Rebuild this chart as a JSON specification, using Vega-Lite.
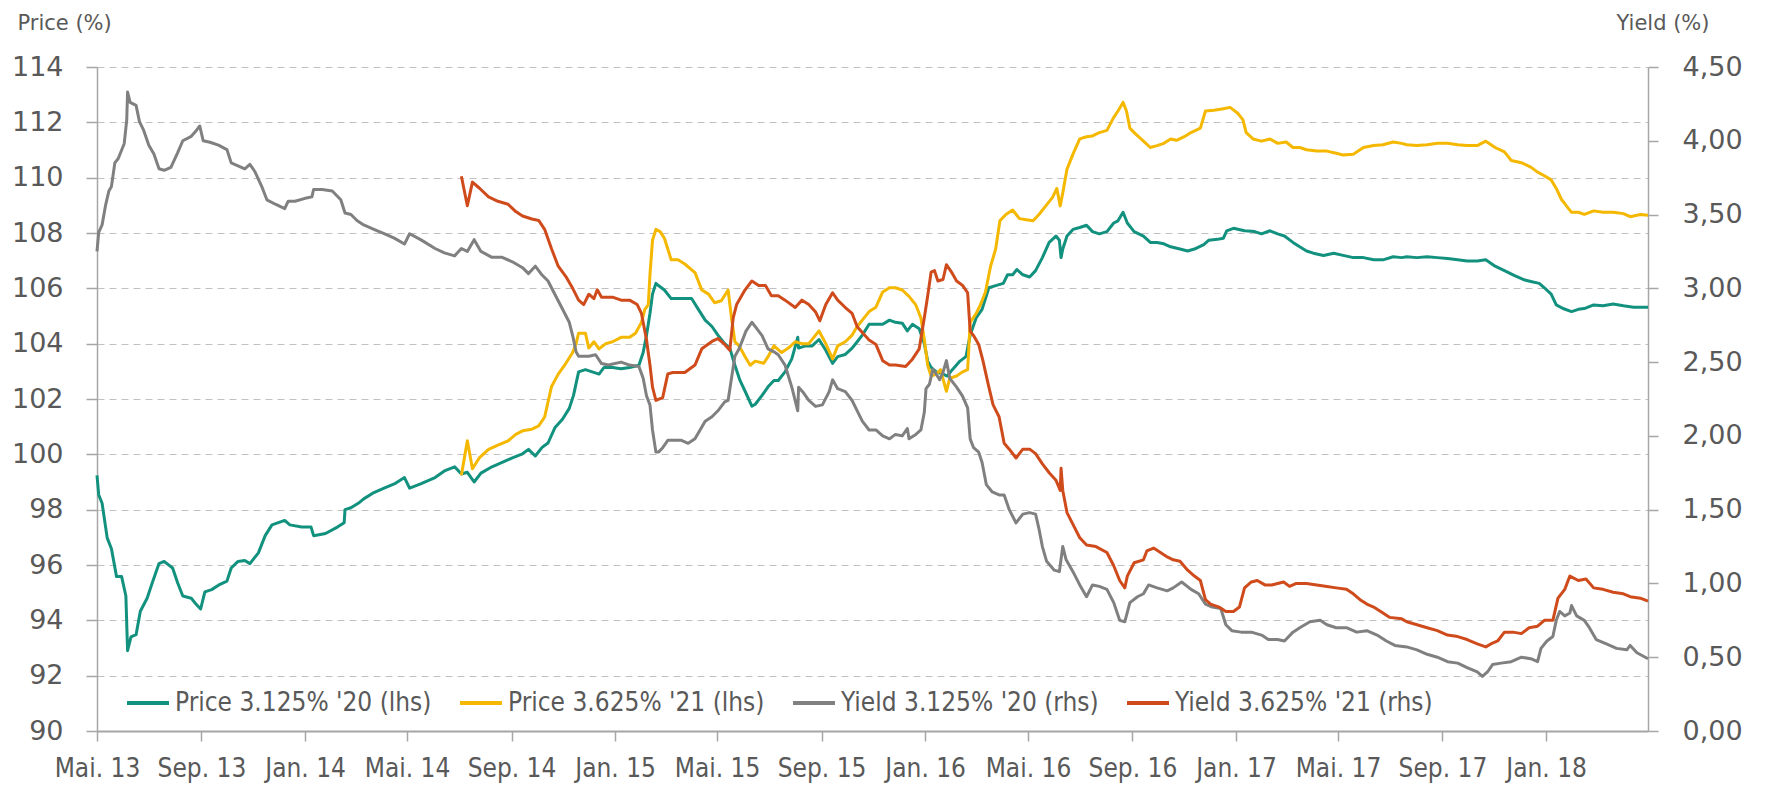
{
"$schema":"https://vega.github.io/schema/vega-lite/v6.json",
"width":1551,"height":664,
"autosize":{"type":"none"},
"padding":{"left":97,"top":67,"right":117,"bottom":54},
"config":{"view":{"stroke":null},"font":"DejaVu Sans"},
"datasets":{
"p20":[{"d":"2013-05-01","v":99.24},{"d":"2013-05-03","v":98.54},{"d":"2013-05-07","v":98.23},{"d":"2013-05-13","v":96.98},{"d":"2013-05-18","v":96.59},{"d":"2013-05-24","v":95.58},{"d":"2013-05-30","v":95.58},{"d":"2013-06-04","v":94.88},{"d":"2013-06-06","v":92.9},{"d":"2013-06-10","v":93.4},{"d":"2013-06-16","v":93.48},{"d":"2013-06-21","v":94.33},{"d":"2013-06-29","v":94.8},{"d":"2013-07-05","v":95.35},{"d":"2013-07-13","v":96.05},{"d":"2013-07-19","v":96.13},{"d":"2013-07-29","v":95.89},{"d":"2013-08-04","v":95.35},{"d":"2013-08-10","v":94.88},{"d":"2013-08-20","v":94.8},{"d":"2013-08-26","v":94.57},{"d":"2013-08-31","v":94.41},{"d":"2013-09-05","v":95.03},{"d":"2013-09-13","v":95.11},{"d":"2013-09-21","v":95.27},{"d":"2013-10-01","v":95.42},{"d":"2013-10-06","v":95.89},{"d":"2013-10-14","v":96.13},{"d":"2013-10-22","v":96.16},{"d":"2013-10-28","v":96.05},{"d":"2013-11-07","v":96.44},{"d":"2013-11-15","v":97.06},{"d":"2013-11-23","v":97.45},{"d":"2013-12-08","v":97.61},{"d":"2013-12-14","v":97.45},{"d":"2013-12-28","v":97.37},{"d":"2014-01-08","v":97.37},{"d":"2014-01-11","v":97.06},{"d":"2014-01-25","v":97.14},{"d":"2014-02-08","v":97.37},{"d":"2014-02-16","v":97.53},{"d":"2014-02-17","v":98.0},{"d":"2014-02-24","v":98.07},{"d":"2014-03-06","v":98.26},{"d":"2014-03-11","v":98.39},{"d":"2014-03-23","v":98.62},{"d":"2014-04-04","v":98.78},{"d":"2014-04-16","v":98.93},{"d":"2014-04-28","v":99.16},{"d":"2014-05-04","v":98.78},{"d":"2014-05-17","v":98.93},{"d":"2014-06-03","v":99.16},{"d":"2014-06-14","v":99.4},{"d":"2014-06-26","v":99.55},{"d":"2014-07-04","v":99.29},{"d":"2014-07-11","v":99.35},{"d":"2014-07-19","v":99.0},{"d":"2014-07-27","v":99.32},{"d":"2014-08-09","v":99.55},{"d":"2014-08-21","v":99.71},{"d":"2014-09-02","v":99.87},{"d":"2014-09-14","v":100.02},{"d":"2014-09-21","v":100.18},{"d":"2014-09-29","v":99.94},{"d":"2014-10-07","v":100.25},{"d":"2014-10-14","v":100.41},{"d":"2014-10-22","v":100.96},{"d":"2014-10-31","v":101.27},{"d":"2014-11-08","v":101.66},{"d":"2014-11-13","v":102.13},{"d":"2014-11-19","v":102.98},{"d":"2014-11-27","v":103.06},{"d":"2014-12-05","v":102.98},{"d":"2014-12-13","v":102.9},{"d":"2014-12-19","v":103.14},{"d":"2014-12-29","v":103.14},{"d":"2015-01-08","v":103.09},{"d":"2015-01-18","v":103.14},{"d":"2015-01-29","v":103.22},{"d":"2015-02-03","v":103.68},{"d":"2015-02-07","v":104.31},{"d":"2015-02-11","v":105.09},{"d":"2015-02-14","v":105.79},{"d":"2015-02-18","v":106.18},{"d":"2015-02-21","v":106.1},{"d":"2015-02-28","v":105.94},{"d":"2015-03-08","v":105.63},{"d":"2015-03-20","v":105.63},{"d":"2015-04-01","v":105.63},{"d":"2015-04-09","v":105.24},{"d":"2015-04-17","v":104.85},{"d":"2015-04-25","v":104.62},{"d":"2015-05-02","v":104.31},{"d":"2015-05-10","v":104.0},{"d":"2015-05-16","v":103.84},{"d":"2015-05-22","v":103.22},{"d":"2015-05-28","v":102.67},{"d":"2015-06-03","v":102.28},{"d":"2015-06-11","v":101.74},{"d":"2015-06-15","v":101.81},{"d":"2015-06-23","v":102.13},{"d":"2015-06-30","v":102.44},{"d":"2015-07-07","v":102.67},{"d":"2015-07-12","v":102.67},{"d":"2015-07-20","v":102.98},{"d":"2015-07-28","v":103.45},{"d":"2015-08-04","v":104.23},{"d":"2015-08-05","v":103.84},{"d":"2015-08-13","v":103.92},{"d":"2015-08-21","v":103.92},{"d":"2015-08-29","v":104.15},{"d":"2015-09-06","v":103.76},{"d":"2015-09-14","v":103.29},{"d":"2015-09-20","v":103.53},{"d":"2015-09-29","v":103.61},{"d":"2015-10-07","v":103.84},{"d":"2015-10-13","v":104.07},{"d":"2015-10-19","v":104.31},{"d":"2015-10-27","v":104.7},{"d":"2015-11-04","v":104.7},{"d":"2015-11-12","v":104.7},{"d":"2015-11-20","v":104.85},{"d":"2015-11-27","v":104.77},{"d":"2015-12-05","v":104.74},{"d":"2015-12-11","v":104.46},{"d":"2015-12-17","v":104.7},{"d":"2015-12-25","v":104.54},{"d":"2015-12-31","v":104.0},{"d":"2016-01-04","v":103.37},{"d":"2016-01-08","v":103.14},{"d":"2016-01-14","v":102.98},{"d":"2016-01-22","v":102.9},{"d":"2016-01-27","v":102.83},{"d":"2016-02-02","v":103.06},{"d":"2016-02-11","v":103.37},{"d":"2016-02-18","v":103.53},{"d":"2016-02-23","v":104.31},{"d":"2016-03-01","v":104.93},{"d":"2016-03-08","v":105.24},{"d":"2016-03-16","v":106.02},{"d":"2016-03-24","v":106.1},{"d":"2016-04-02","v":106.18},{"d":"2016-04-07","v":106.49},{"d":"2016-04-13","v":106.49},{"d":"2016-04-18","v":106.68},{"d":"2016-04-25","v":106.49},{"d":"2016-05-03","v":106.41},{"d":"2016-05-10","v":106.64},{"d":"2016-05-18","v":107.11},{"d":"2016-05-26","v":107.66},{"d":"2016-06-03","v":107.89},{"d":"2016-06-07","v":107.74},{"d":"2016-06-09","v":107.11},{"d":"2016-06-11","v":107.42},{"d":"2016-06-16","v":107.89},{"d":"2016-06-23","v":108.13},{"d":"2016-07-01","v":108.2},{"d":"2016-07-09","v":108.28},{"d":"2016-07-16","v":108.05},{"d":"2016-07-24","v":107.97},{"d":"2016-08-02","v":108.05},{"d":"2016-08-10","v":108.36},{"d":"2016-08-15","v":108.44},{"d":"2016-08-21","v":108.75},{"d":"2016-08-26","v":108.36},{"d":"2016-09-03","v":108.05},{"d":"2016-09-14","v":107.89},{"d":"2016-09-22","v":107.66},{"d":"2016-09-30","v":107.66},{"d":"2016-10-08","v":107.61},{"d":"2016-10-16","v":107.5},{"d":"2016-10-27","v":107.42},{"d":"2016-11-05","v":107.35},{"d":"2016-11-13","v":107.42},{"d":"2016-11-24","v":107.58},{"d":"2016-11-30","v":107.74},{"d":"2016-12-10","v":107.77},{"d":"2016-12-17","v":107.81},{"d":"2016-12-21","v":108.08},{"d":"2016-12-29","v":108.17},{"d":"2017-01-11","v":108.08},{"d":"2017-01-23","v":108.05},{"d":"2017-01-31","v":107.97},{"d":"2017-02-10","v":108.08},{"d":"2017-02-19","v":107.97},{"d":"2017-02-27","v":107.89},{"d":"2017-03-09","v":107.66},{"d":"2017-03-17","v":107.5},{"d":"2017-03-25","v":107.35},{"d":"2017-04-02","v":107.27},{"d":"2017-04-14","v":107.19},{"d":"2017-04-26","v":107.27},{"d":"2017-05-07","v":107.19},{"d":"2017-05-19","v":107.11},{"d":"2017-05-31","v":107.11},{"d":"2017-06-12","v":107.03},{"d":"2017-06-23","v":107.03},{"d":"2017-07-05","v":107.14},{"d":"2017-07-15","v":107.11},{"d":"2017-07-21","v":107.14},{"d":"2017-08-02","v":107.11},{"d":"2017-08-14","v":107.14},{"d":"2017-08-26","v":107.11},{"d":"2017-09-07","v":107.08},{"d":"2017-09-19","v":107.03},{"d":"2017-09-30","v":106.99},{"d":"2017-10-12","v":106.99},{"d":"2017-10-22","v":107.03},{"d":"2017-11-02","v":106.8},{"d":"2017-11-13","v":106.64},{"d":"2017-11-25","v":106.46},{"d":"2017-12-07","v":106.3},{"d":"2017-12-14","v":106.25},{"d":"2017-12-24","v":106.18},{"d":"2017-12-30","v":106.02},{"d":"2018-01-07","v":105.79},{"d":"2018-01-13","v":105.4},{"d":"2018-01-21","v":105.27},{"d":"2018-01-31","v":105.16},{"d":"2018-02-08","v":105.24},{"d":"2018-02-15","v":105.27},{"d":"2018-02-26","v":105.4},{"d":"2018-03-09","v":105.37},{"d":"2018-03-21","v":105.43},{"d":"2018-04-02","v":105.37},{"d":"2018-04-14","v":105.32},{"d":"2018-04-26","v":105.32},{"d":"2018-05-01","v":105.32}],
"p21":[{"d":"2014-07-04","v":99.24},{"d":"2014-07-11","v":100.49},{"d":"2014-07-17","v":99.48},{"d":"2014-07-25","v":99.87},{"d":"2014-08-05","v":100.18},{"d":"2014-08-16","v":100.33},{"d":"2014-08-28","v":100.49},{"d":"2014-09-06","v":100.72},{"d":"2014-09-14","v":100.85},{"d":"2014-09-25","v":100.91},{"d":"2014-10-03","v":101.03},{"d":"2014-10-10","v":101.35},{"d":"2014-10-18","v":102.44},{"d":"2014-10-26","v":102.9},{"d":"2014-11-04","v":103.29},{"d":"2014-11-12","v":103.68},{"d":"2014-11-16","v":104.0},{"d":"2014-11-19","v":104.38},{"d":"2014-11-27","v":104.38},{"d":"2014-12-01","v":103.84},{"d":"2014-12-07","v":104.07},{"d":"2014-12-13","v":103.81},{"d":"2014-12-21","v":104.0},{"d":"2014-12-29","v":104.07},{"d":"2015-01-08","v":104.23},{"d":"2015-01-18","v":104.23},{"d":"2015-01-25","v":104.38},{"d":"2015-02-01","v":104.77},{"d":"2015-02-05","v":105.24},{"d":"2015-02-09","v":105.4},{"d":"2015-02-11","v":106.49},{"d":"2015-02-14","v":107.74},{"d":"2015-02-18","v":108.13},{"d":"2015-02-23","v":108.05},{"d":"2015-02-28","v":107.81},{"d":"2015-03-04","v":107.42},{"d":"2015-03-08","v":107.03},{"d":"2015-03-16","v":107.03},{"d":"2015-03-24","v":106.88},{"d":"2015-04-05","v":106.57},{"d":"2015-04-13","v":105.94},{"d":"2015-04-21","v":105.79},{"d":"2015-04-28","v":105.48},{"d":"2015-05-06","v":105.55},{"d":"2015-05-14","v":105.94},{"d":"2015-05-18","v":104.93},{"d":"2015-05-22","v":104.07},{"d":"2015-05-27","v":103.92},{"d":"2015-06-03","v":103.53},{"d":"2015-06-09","v":103.22},{"d":"2015-06-15","v":103.37},{"d":"2015-06-25","v":103.29},{"d":"2015-06-30","v":103.53},{"d":"2015-07-07","v":103.92},{"d":"2015-07-16","v":103.68},{"d":"2015-07-24","v":103.84},{"d":"2015-08-01","v":104.07},{"d":"2015-08-09","v":104.0},{"d":"2015-08-17","v":104.0},{"d":"2015-08-25","v":104.31},{"d":"2015-08-29","v":104.46},{"d":"2015-09-06","v":104.0},{"d":"2015-09-14","v":103.45},{"d":"2015-09-20","v":103.92},{"d":"2015-09-29","v":104.07},{"d":"2015-10-07","v":104.31},{"d":"2015-10-13","v":104.62},{"d":"2015-10-19","v":104.85},{"d":"2015-10-27","v":105.16},{"d":"2015-11-04","v":105.32},{"d":"2015-11-12","v":105.87},{"d":"2015-11-20","v":106.02},{"d":"2015-11-27","v":106.02},{"d":"2015-12-05","v":105.94},{"d":"2015-12-13","v":105.71},{"d":"2015-12-21","v":105.4},{"d":"2015-12-27","v":104.93},{"d":"2015-12-31","v":104.15},{"d":"2016-01-04","v":103.22},{"d":"2016-01-08","v":102.83},{"d":"2016-01-14","v":102.9},{"d":"2016-01-19","v":103.06},{"d":"2016-01-26","v":102.28},{"d":"2016-01-30","v":102.75},{"d":"2016-02-07","v":102.83},{"d":"2016-02-14","v":102.98},{"d":"2016-02-20","v":103.06},{"d":"2016-02-23","v":104.77},{"d":"2016-03-01","v":105.09},{"d":"2016-03-06","v":105.4},{"d":"2016-03-12","v":105.87},{"d":"2016-03-18","v":106.8},{"d":"2016-03-24","v":107.42},{"d":"2016-03-29","v":108.44},{"d":"2016-04-05","v":108.67},{"d":"2016-04-13","v":108.83},{"d":"2016-04-21","v":108.52},{"d":"2016-04-29","v":108.48},{"d":"2016-05-07","v":108.44},{"d":"2016-05-14","v":108.67},{"d":"2016-05-22","v":108.98},{"d":"2016-05-30","v":109.29},{"d":"2016-06-04","v":109.61},{"d":"2016-06-08","v":108.98},{"d":"2016-06-11","v":109.45},{"d":"2016-06-16","v":110.31},{"d":"2016-06-23","v":110.85},{"d":"2016-07-01","v":111.4},{"d":"2016-07-09","v":111.48},{"d":"2016-07-16","v":111.51},{"d":"2016-07-24","v":111.63},{"d":"2016-08-02","v":111.71},{"d":"2016-08-10","v":112.18},{"d":"2016-08-15","v":112.41},{"d":"2016-08-21","v":112.72},{"d":"2016-08-25","v":112.41},{"d":"2016-08-29","v":111.79},{"d":"2016-09-04","v":111.6},{"d":"2016-09-14","v":111.32},{"d":"2016-09-22","v":111.09},{"d":"2016-09-30","v":111.16},{"d":"2016-10-08","v":111.24},{"d":"2016-10-16","v":111.4},{"d":"2016-10-23","v":111.35},{"d":"2016-11-01","v":111.48},{"d":"2016-11-09","v":111.63},{"d":"2016-11-20","v":111.79},{"d":"2016-11-26","v":112.41},{"d":"2016-12-06","v":112.44},{"d":"2016-12-17","v":112.49},{"d":"2016-12-25","v":112.54},{"d":"2017-01-03","v":112.33},{"d":"2017-01-09","v":112.1},{"d":"2017-01-13","v":111.63},{"d":"2017-01-21","v":111.4},{"d":"2017-01-31","v":111.32},{"d":"2017-02-10","v":111.4},{"d":"2017-02-19","v":111.24},{"d":"2017-03-01","v":111.29},{"d":"2017-03-09","v":111.09},{"d":"2017-03-17","v":111.09},{"d":"2017-03-25","v":111.01},{"d":"2017-04-06","v":110.96},{"d":"2017-04-18","v":110.96},{"d":"2017-04-29","v":110.88},{"d":"2017-05-07","v":110.82},{"d":"2017-05-19","v":110.85},{"d":"2017-05-31","v":111.09},{"d":"2017-06-12","v":111.16},{"d":"2017-06-23","v":111.19},{"d":"2017-07-05","v":111.29},{"d":"2017-07-15","v":111.24},{"d":"2017-07-21","v":111.19},{"d":"2017-08-02","v":111.16},{"d":"2017-08-14","v":111.19},{"d":"2017-08-26","v":111.24},{"d":"2017-09-07","v":111.24},{"d":"2017-09-19","v":111.19},{"d":"2017-09-30","v":111.16},{"d":"2017-10-12","v":111.16},{"d":"2017-10-22","v":111.32},{"d":"2017-11-02","v":111.09},{"d":"2017-11-13","v":110.93},{"d":"2017-11-21","v":110.62},{"d":"2017-12-03","v":110.54},{"d":"2017-12-14","v":110.38},{"d":"2017-12-22","v":110.2},{"d":"2017-12-30","v":110.07},{"d":"2018-01-07","v":109.92},{"d":"2018-01-13","v":109.61},{"d":"2018-01-19","v":109.22},{"d":"2018-01-27","v":108.9},{"d":"2018-01-31","v":108.75},{"d":"2018-02-08","v":108.75},{"d":"2018-02-15","v":108.67},{"d":"2018-02-26","v":108.8},{"d":"2018-03-09","v":108.75},{"d":"2018-03-21","v":108.75},{"d":"2018-04-02","v":108.7},{"d":"2018-04-10","v":108.59},{"d":"2018-04-22","v":108.67},{"d":"2018-05-01","v":108.64}],
"y20":[{"d":"2013-05-01","v":3.25},{"d":"2013-05-03","v":3.38},{"d":"2013-05-07","v":3.43},{"d":"2013-05-11","v":3.56},{"d":"2013-05-15","v":3.66},{"d":"2013-05-18","v":3.69},{"d":"2013-05-22","v":3.85},{"d":"2013-05-26","v":3.88},{"d":"2013-06-02","v":3.98},{"d":"2013-06-05","v":4.14},{"d":"2013-06-06","v":4.33},{"d":"2013-06-09","v":4.26},{"d":"2013-06-16","v":4.24},{"d":"2013-06-20","v":4.13},{"d":"2013-06-25","v":4.07},{"d":"2013-07-01","v":3.97},{"d":"2013-07-07","v":3.91},{"d":"2013-07-13","v":3.81},{"d":"2013-07-19","v":3.8},{"d":"2013-07-27","v":3.82},{"d":"2013-08-04","v":3.92},{"d":"2013-08-10","v":4.0},{"d":"2013-08-20","v":4.03},{"d":"2013-08-26","v":4.07},{"d":"2013-08-30","v":4.1},{"d":"2013-09-03","v":4.0},{"d":"2013-09-11","v":3.99},{"d":"2013-09-21","v":3.97},{"d":"2013-10-01","v":3.94},{"d":"2013-10-06","v":3.85},{"d":"2013-10-14","v":3.83},{"d":"2013-10-22","v":3.81},{"d":"2013-10-28","v":3.84},{"d":"2013-11-03","v":3.79},{"d":"2013-11-11","v":3.69},{"d":"2013-11-17","v":3.6},{"d":"2013-11-27","v":3.57},{"d":"2013-12-08","v":3.54},{"d":"2013-12-12","v":3.59},{"d":"2013-12-20","v":3.59},{"d":"2014-01-01","v":3.61},{"d":"2014-01-09","v":3.62},{"d":"2014-01-11","v":3.67},{"d":"2014-01-21","v":3.67},{"d":"2014-02-02","v":3.66},{"d":"2014-02-12","v":3.6},{"d":"2014-02-17","v":3.51},{"d":"2014-02-24","v":3.5},{"d":"2014-03-03","v":3.46},{"d":"2014-03-11","v":3.43},{"d":"2014-03-23","v":3.4},{"d":"2014-04-04","v":3.37},{"d":"2014-04-16","v":3.34},{"d":"2014-04-28","v":3.3},{"d":"2014-05-04","v":3.37},{"d":"2014-05-17","v":3.33},{"d":"2014-06-03","v":3.27},{"d":"2014-06-14","v":3.24},{"d":"2014-06-26","v":3.22},{"d":"2014-07-04","v":3.27},{"d":"2014-07-11","v":3.25},{"d":"2014-07-19","v":3.33},{"d":"2014-07-27","v":3.25},{"d":"2014-08-09","v":3.21},{"d":"2014-08-21","v":3.21},{"d":"2014-09-02","v":3.18},{"d":"2014-09-14","v":3.14},{"d":"2014-09-21","v":3.1},{"d":"2014-09-29","v":3.15},{"d":"2014-10-07","v":3.09},{"d":"2014-10-14","v":3.05},{"d":"2014-10-22","v":2.96},{"d":"2014-10-31","v":2.86},{"d":"2014-11-08","v":2.77},{"d":"2014-11-12","v":2.68},{"d":"2014-11-16","v":2.57},{"d":"2014-11-19","v":2.54},{"d":"2014-12-01","v":2.54},{"d":"2014-12-09","v":2.55},{"d":"2014-12-16","v":2.49},{"d":"2014-12-24","v":2.48},{"d":"2015-01-08","v":2.5},{"d":"2015-01-18","v":2.48},{"d":"2015-01-29","v":2.47},{"d":"2015-02-03","v":2.39},{"d":"2015-02-07","v":2.27},{"d":"2015-02-11","v":2.21},{"d":"2015-02-14","v":2.04},{"d":"2015-02-18","v":1.89},{"d":"2015-02-21","v":1.89},{"d":"2015-02-26","v":1.92},{"d":"2015-03-04","v":1.97},{"d":"2015-03-12","v":1.97},{"d":"2015-03-20","v":1.97},{"d":"2015-03-28","v":1.95},{"d":"2015-04-05","v":1.98},{"d":"2015-04-11","v":2.04},{"d":"2015-04-17","v":2.1},{"d":"2015-04-25","v":2.13},{"d":"2015-05-02","v":2.17},{"d":"2015-05-10","v":2.23},{"d":"2015-05-14","v":2.24},{"d":"2015-05-18","v":2.39},{"d":"2015-05-22","v":2.54},{"d":"2015-05-26","v":2.58},{"d":"2015-05-29","v":2.62},{"d":"2015-06-04","v":2.71},{"d":"2015-06-11","v":2.77},{"d":"2015-06-15","v":2.74},{"d":"2015-06-23","v":2.68},{"d":"2015-06-30","v":2.59},{"d":"2015-07-07","v":2.57},{"d":"2015-07-12","v":2.55},{"d":"2015-07-20","v":2.48},{"d":"2015-07-28","v":2.33},{"d":"2015-08-04","v":2.17},{"d":"2015-08-05","v":2.33},{"d":"2015-08-11","v":2.29},{"d":"2015-08-17","v":2.24},{"d":"2015-08-25","v":2.2},{"d":"2015-09-02","v":2.21},{"d":"2015-09-10","v":2.3},{"d":"2015-09-14","v":2.38},{"d":"2015-09-20","v":2.32},{"d":"2015-09-29","v":2.3},{"d":"2015-10-07","v":2.24},{"d":"2015-10-13","v":2.17},{"d":"2015-10-19","v":2.1},{"d":"2015-10-27","v":2.04},{"d":"2015-11-04","v":2.04},{"d":"2015-11-12","v":2.0},{"d":"2015-11-20","v":1.98},{"d":"2015-11-27","v":2.01},{"d":"2015-12-05","v":2.0},{"d":"2015-12-11","v":2.05},{"d":"2015-12-13","v":1.98},{"d":"2015-12-21","v":2.01},{"d":"2015-12-27","v":2.04},{"d":"2015-12-31","v":2.16},{"d":"2016-01-02","v":2.32},{"d":"2016-01-06","v":2.35},{"d":"2016-01-10","v":2.45},{"d":"2016-01-14","v":2.42},{"d":"2016-01-18","v":2.38},{"d":"2016-01-22","v":2.43},{"d":"2016-01-26","v":2.51},{"d":"2016-01-30","v":2.39},{"d":"2016-02-07","v":2.33},{"d":"2016-02-14","v":2.27},{"d":"2016-02-20","v":2.19},{"d":"2016-02-23","v":1.98},{"d":"2016-02-27","v":1.92},{"d":"2016-03-04","v":1.89},{"d":"2016-03-08","v":1.82},{"d":"2016-03-13","v":1.67},{"d":"2016-03-20","v":1.62},{"d":"2016-03-28","v":1.6},{"d":"2016-04-03","v":1.6},{"d":"2016-04-09","v":1.5},{"d":"2016-04-17","v":1.41},{"d":"2016-04-25","v":1.47},{"d":"2016-05-03","v":1.48},{"d":"2016-05-10","v":1.47},{"d":"2016-05-14","v":1.37},{"d":"2016-05-18","v":1.25},{"d":"2016-05-23","v":1.15},{"d":"2016-06-01","v":1.09},{"d":"2016-06-07","v":1.08},{"d":"2016-06-11","v":1.25},{"d":"2016-06-15","v":1.16},{"d":"2016-06-23","v":1.08},{"d":"2016-07-01","v":0.99},{"d":"2016-07-09","v":0.91},{"d":"2016-07-16","v":0.99},{"d":"2016-07-24","v":0.98},{"d":"2016-08-02","v":0.96},{"d":"2016-08-10","v":0.87},{"d":"2016-08-17","v":0.75},{"d":"2016-08-23","v":0.74},{"d":"2016-08-29","v":0.87},{"d":"2016-09-07","v":0.91},{"d":"2016-09-14","v":0.93},{"d":"2016-09-20","v":0.99},{"d":"2016-09-30","v":0.97},{"d":"2016-10-12","v":0.95},{"d":"2016-10-19","v":0.97},{"d":"2016-10-29","v":1.01},{"d":"2016-11-09","v":0.96},{"d":"2016-11-18","v":0.93},{"d":"2016-11-26","v":0.86},{"d":"2016-12-04","v":0.84},{"d":"2016-12-14","v":0.83},{"d":"2016-12-20","v":0.72},{"d":"2016-12-27","v":0.68},{"d":"2017-01-07","v":0.67},{"d":"2017-01-19","v":0.67},{"d":"2017-01-31","v":0.65},{"d":"2017-02-08","v":0.62},{"d":"2017-02-19","v":0.62},{"d":"2017-02-27","v":0.61},{"d":"2017-03-09","v":0.67},{"d":"2017-03-17","v":0.7},{"d":"2017-03-29","v":0.74},{"d":"2017-04-10","v":0.75},{"d":"2017-04-18","v":0.72},{"d":"2017-04-29","v":0.7},{"d":"2017-05-11","v":0.7},{"d":"2017-05-23","v":0.67},{"d":"2017-06-04","v":0.68},{"d":"2017-06-16","v":0.65},{"d":"2017-06-27","v":0.61},{"d":"2017-07-07","v":0.58},{"d":"2017-07-21","v":0.57},{"d":"2017-08-02","v":0.55},{"d":"2017-08-14","v":0.52},{"d":"2017-08-26","v":0.5},{"d":"2017-09-07","v":0.47},{"d":"2017-09-19","v":0.46},{"d":"2017-09-30","v":0.43},{"d":"2017-10-12","v":0.4},{"d":"2017-10-18","v":0.37},{"d":"2017-10-24","v":0.4},{"d":"2017-10-30","v":0.45},{"d":"2017-11-09","v":0.46},{"d":"2017-11-21","v":0.47},{"d":"2017-12-03","v":0.5},{"d":"2017-12-14","v":0.49},{"d":"2017-12-22","v":0.47},{"d":"2017-12-26","v":0.56},{"d":"2018-01-02","v":0.61},{"d":"2018-01-09","v":0.64},{"d":"2018-01-13","v":0.75},{"d":"2018-01-17","v":0.81},{"d":"2018-01-23","v":0.78},{"d":"2018-01-29","v":0.8},{"d":"2018-01-31","v":0.85},{"d":"2018-02-06","v":0.78},{"d":"2018-02-15","v":0.75},{"d":"2018-02-21","v":0.7},{"d":"2018-03-01","v":0.62},{"d":"2018-03-13","v":0.59},{"d":"2018-03-25","v":0.56},{"d":"2018-04-06","v":0.55},{"d":"2018-04-10","v":0.58},{"d":"2018-04-18","v":0.53},{"d":"2018-05-01","v":0.49}],
"y21":[{"d":"2014-07-04","v":3.76},{"d":"2014-07-11","v":3.56},{"d":"2014-07-17","v":3.72},{"d":"2014-07-25","v":3.68},{"d":"2014-08-05","v":3.62},{"d":"2014-08-16","v":3.59},{"d":"2014-08-28","v":3.57},{"d":"2014-09-06","v":3.52},{"d":"2014-09-14","v":3.49},{"d":"2014-09-25","v":3.47},{"d":"2014-10-03","v":3.46},{"d":"2014-10-10","v":3.4},{"d":"2014-10-18","v":3.27},{"d":"2014-10-26","v":3.15},{"d":"2014-11-04","v":3.08},{"d":"2014-11-12","v":3.0},{"d":"2014-11-19","v":2.92},{"d":"2014-11-25","v":2.89},{"d":"2014-12-01","v":2.96},{"d":"2014-12-07","v":2.93},{"d":"2014-12-11","v":2.99},{"d":"2014-12-16","v":2.94},{"d":"2014-12-29","v":2.94},{"d":"2015-01-08","v":2.92},{"d":"2015-01-18","v":2.92},{"d":"2015-01-27","v":2.89},{"d":"2015-02-01","v":2.83},{"d":"2015-02-07","v":2.65},{"d":"2015-02-11","v":2.48},{"d":"2015-02-14","v":2.33},{"d":"2015-02-18","v":2.24},{"d":"2015-02-26","v":2.26},{"d":"2015-03-04","v":2.42},{"d":"2015-03-10","v":2.43},{"d":"2015-03-24","v":2.43},{"d":"2015-04-05","v":2.48},{"d":"2015-04-13","v":2.59},{"d":"2015-04-25","v":2.64},{"d":"2015-05-02","v":2.66},{"d":"2015-05-10","v":2.62},{"d":"2015-05-16","v":2.58},{"d":"2015-05-20","v":2.8},{"d":"2015-05-24","v":2.89},{"d":"2015-06-03","v":2.99},{"d":"2015-06-11","v":3.05},{"d":"2015-06-19","v":3.02},{"d":"2015-06-27","v":3.02},{"d":"2015-07-04","v":2.95},{"d":"2015-07-12","v":2.95},{"d":"2015-07-20","v":2.92},{"d":"2015-08-01","v":2.87},{"d":"2015-08-09","v":2.92},{"d":"2015-08-17","v":2.89},{"d":"2015-08-25","v":2.84},{"d":"2015-08-30","v":2.78},{"d":"2015-09-06","v":2.89},{"d":"2015-09-14","v":2.97},{"d":"2015-09-20","v":2.92},{"d":"2015-09-29","v":2.87},{"d":"2015-10-07","v":2.83},{"d":"2015-10-13","v":2.74},{"d":"2015-10-19","v":2.7},{"d":"2015-10-27","v":2.65},{"d":"2015-11-04","v":2.62},{"d":"2015-11-12","v":2.51},{"d":"2015-11-20","v":2.48},{"d":"2015-11-27","v":2.48},{"d":"2015-12-09","v":2.47},{"d":"2015-12-17","v":2.52},{"d":"2015-12-25","v":2.59},{"d":"2015-12-31","v":2.8},{"d":"2016-01-04","v":2.95},{"d":"2016-01-08","v":3.11},{"d":"2016-01-12","v":3.12},{"d":"2016-01-16","v":3.05},{"d":"2016-01-22","v":3.06},{"d":"2016-01-26","v":3.16},{"d":"2016-02-01","v":3.11},{"d":"2016-02-07","v":3.05},{"d":"2016-02-14","v":3.02},{"d":"2016-02-20","v":2.97},{"d":"2016-02-23","v":2.71},{"d":"2016-02-27","v":2.68},{"d":"2016-03-04","v":2.62},{"d":"2016-03-09","v":2.51},{"d":"2016-03-16","v":2.33},{"d":"2016-03-21","v":2.21},{"d":"2016-03-28","v":2.13},{"d":"2016-04-03","v":1.95},{"d":"2016-04-09","v":1.91},{"d":"2016-04-17","v":1.85},{"d":"2016-04-25","v":1.91},{"d":"2016-05-03","v":1.91},{"d":"2016-05-10","v":1.88},{"d":"2016-05-18","v":1.81},{"d":"2016-05-26","v":1.75},{"d":"2016-06-03","v":1.7},{"d":"2016-06-08","v":1.63},{"d":"2016-06-09","v":1.78},{"d":"2016-06-11","v":1.63},{"d":"2016-06-16","v":1.48},{"d":"2016-06-23","v":1.4},{"d":"2016-07-01","v":1.31},{"d":"2016-07-09","v":1.26},{"d":"2016-07-20","v":1.25},{"d":"2016-08-02","v":1.21},{"d":"2016-08-10","v":1.12},{"d":"2016-08-17","v":1.02},{"d":"2016-08-23","v":0.97},{"d":"2016-08-26","v":1.05},{"d":"2016-09-03","v":1.14},{"d":"2016-09-14","v":1.16},{"d":"2016-09-18","v":1.22},{"d":"2016-09-26","v":1.24},{"d":"2016-10-04","v":1.21},{"d":"2016-10-12","v":1.18},{"d":"2016-10-19","v":1.16},{"d":"2016-10-27","v":1.15},{"d":"2016-11-05","v":1.09},{"d":"2016-11-13","v":1.05},{"d":"2016-11-20","v":1.02},{"d":"2016-11-26","v":0.89},{"d":"2016-12-02","v":0.86},{"d":"2016-12-12","v":0.84},{"d":"2016-12-20","v":0.81},{"d":"2016-12-29","v":0.81},{"d":"2017-01-05","v":0.84},{"d":"2017-01-11","v":0.97},{"d":"2017-01-19","v":1.01},{"d":"2017-01-26","v":1.02},{"d":"2017-02-04","v":0.99},{"d":"2017-02-12","v":0.99},{"d":"2017-02-19","v":1.0},{"d":"2017-02-26","v":1.01},{"d":"2017-03-05","v":0.98},{"d":"2017-03-13","v":1.0},{"d":"2017-03-25","v":1.0},{"d":"2017-04-06","v":0.99},{"d":"2017-04-18","v":0.98},{"d":"2017-04-29","v":0.97},{"d":"2017-05-11","v":0.96},{"d":"2017-05-19","v":0.93},{"d":"2017-05-27","v":0.89},{"d":"2017-06-04","v":0.86},{"d":"2017-06-12","v":0.84},{"d":"2017-06-23","v":0.8},{"d":"2017-07-01","v":0.77},{"d":"2017-07-15","v":0.76},{"d":"2017-07-21","v":0.74},{"d":"2017-08-02","v":0.72},{"d":"2017-08-14","v":0.7},{"d":"2017-08-26","v":0.68},{"d":"2017-09-07","v":0.65},{"d":"2017-09-19","v":0.64},{"d":"2017-09-30","v":0.62},{"d":"2017-10-12","v":0.59},{"d":"2017-10-22","v":0.57},{"d":"2017-10-28","v":0.59},{"d":"2017-11-05","v":0.61},{"d":"2017-11-13","v":0.67},{"d":"2017-11-23","v":0.67},{"d":"2017-12-03","v":0.66},{"d":"2017-12-12","v":0.7},{"d":"2017-12-22","v":0.71},{"d":"2017-12-30","v":0.75},{"d":"2018-01-09","v":0.75},{"d":"2018-01-15","v":0.9},{"d":"2018-01-23","v":0.96},{"d":"2018-01-29","v":1.05},{"d":"2018-02-08","v":1.02},{"d":"2018-02-17","v":1.03},{"d":"2018-02-26","v":0.97},{"d":"2018-03-09","v":0.96},{"d":"2018-03-21","v":0.94},{"d":"2018-04-02","v":0.93},{"d":"2018-04-10","v":0.91},{"d":"2018-04-22","v":0.9},{"d":"2018-05-01","v":0.88}]
},
"encoding":{
"x":{"field":"d","type":"temporal",
"scale":{"type":"utc","nice":false,"domain":[{"year":2013,"month":5,"date":1,"utc":true},{"year":2018,"month":5,"date":1,"utc":true}]},
"axis":{"values":[{"year":2013,"month":5,"date":1,"utc":true},{"year":2013,"month":9,"date":1,"utc":true},{"year":2014,"month":1,"date":1,"utc":true},{"year":2014,"month":5,"date":1,"utc":true},{"year":2014,"month":9,"date":1,"utc":true},{"year":2015,"month":1,"date":1,"utc":true},{"year":2015,"month":5,"date":1,"utc":true},{"year":2015,"month":9,"date":1,"utc":true},{"year":2016,"month":1,"date":1,"utc":true},{"year":2016,"month":5,"date":1,"utc":true},{"year":2016,"month":9,"date":1,"utc":true},{"year":2017,"month":1,"date":1,"utc":true},{"year":2017,"month":5,"date":1,"utc":true},{"year":2017,"month":9,"date":1,"utc":true},{"year":2018,"month":1,"date":1,"utc":true}],
"labelExpr":"(utcmonth(datum.value)==0?'Jan.':(utcmonth(datum.value)==4?'Mai.':'Sep.'))+' '+utcFormat(datum.value,'%y')",
"grid":false,"domainColor":"#a6a6a6","domainWidth":2,"tickColor":"#a6a6a6","tickSize":10,"tickWidth":1.5,
"labelFont":"DejaVu Sans Condensed","labelFontSize":26,"labelColor":"#595959","labelPadding":14,"title":null,"labelOverlap":false,"labelFlush":false,"labelBound":false}}
},
"layer":[
{"encoding":{"y":{"field":"v","type":"quantitative","scale":{"domain":[90,114],"nice":false,"zero":false},
"axis":{"orient":"left","values":[90,92,94,96,98,100,102,104,106,108,110,112,114],"grid":true,"gridColor":"#c0c0c0","gridDash":[7,5],"gridWidth":1,
"domainColor":"#a6a6a6","domainWidth":1.5,"tickColor":"#a6a6a6","tickSize":11,"tickWidth":1.5,"labelPadding":23,
"labelFont":"DejaVu Sans","labelFontSize":27,"labelColor":"#595959",
"title":"Price (%)","titleAngle":0,"titleX":-80,"titleY":-44,"titleAlign":"left","titleBaseline":"middle","titleFont":"DejaVu Sans","titleFontSize":21,"titleFontWeight":"normal","titleColor":"#595959"}}},
"layer":[
{"data":{"name":"p20"},"mark":{"type":"line","strokeWidth":3,"strokeJoin":"round"},
"encoding":{"color":{"datum":"Price 3.125% '20 (lhs)","type":"nominal",
"scale":{"domain":["Price 3.125% '20 (lhs)","Price 3.625% '21 (lhs)","Yield 3.125% '20 (rhs)","Yield 3.625% '21 (rhs)"],"range":["#12917f","#f5b800","#808080","#cf4b1c"]},
"legend":{"orient":"none","legendX":28,"legendY":613,"direction":"horizontal","columns":4,"title":null,"symbolType":"stroke","symbolSize":1764,"symbolStrokeWidth":4,"labelFont":"DejaVu Sans Condensed","labelFontSize":26,"labelColor":"#595959","labelOffset":4,"columnPadding":20,"padding":0,"labelLimit":400}}}},
{"data":{"name":"p21"},"mark":{"type":"line","strokeWidth":3,"strokeJoin":"round"},
"encoding":{"color":{"datum":"Price 3.625% '21 (lhs)","type":"nominal"}}}
]},
{"encoding":{"y":{"field":"v","type":"quantitative","scale":{"domain":[0,4.5],"nice":false,"zero":false},
"axis":{"orient":"right","values":[0,0.5,1,1.5,2,2.5,3,3.5,4,4.5],"grid":false,
"labelExpr":"replace(format(datum.value,'.2f'),'.',',')",
"domainColor":"#a6a6a6","domainWidth":1.5,"tickColor":"#a6a6a6","tickSize":10,"tickWidth":1.5,"labelPadding":24,
"labelFont":"DejaVu Sans","labelFontSize":27,"labelColor":"#595959",
"title":"Yield (%)","titleAngle":0,"titleX":-32,"titleY":-44,"titleAlign":"left","titleBaseline":"middle","titleFont":"DejaVu Sans","titleFontSize":21,"titleFontWeight":"normal","titleColor":"#595959"}}},
"layer":[
{"data":{"name":"y20"},"mark":{"type":"line","strokeWidth":3,"strokeJoin":"round"},
"encoding":{"color":{"datum":"Yield 3.125% '20 (rhs)","type":"nominal"}}},
{"data":{"name":"y21"},"mark":{"type":"line","strokeWidth":3,"strokeJoin":"round"},
"encoding":{"color":{"datum":"Yield 3.625% '21 (rhs)","type":"nominal"}}}
]}
],
"resolve":{"scale":{"y":"independent"},"axis":{"y":"independent"}}
}
